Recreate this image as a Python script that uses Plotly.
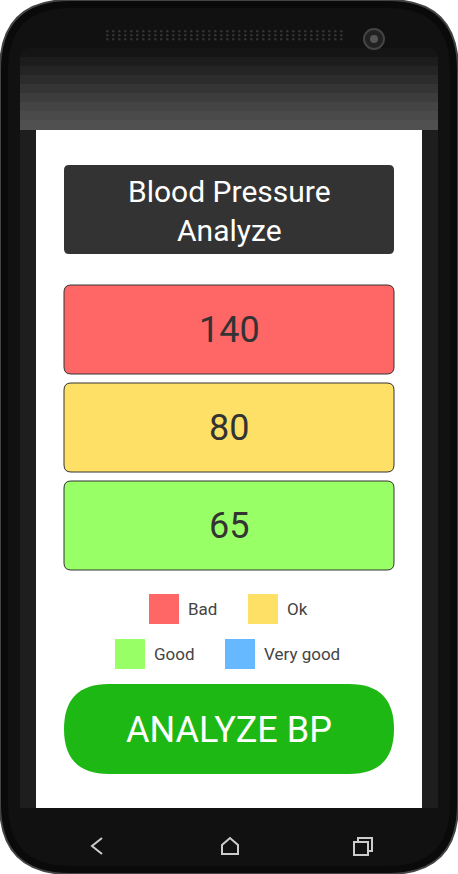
import plotly.graph_objects as go

title_lines = ["Blood Pressure", "Analyze"]
readings = ["140", "80", "65"]
reading_colors = ["#FF6666", "#FFE066", "#99FF66"]
legend_labels = ["Bad", "Ok", "Good", "Very good"]
legend_colors = ["#FF6666", "#FFE066", "#99FF66", "#66B8FF"]
button_label = "ANALYZE BP"

W, H = 458, 874

def rrect(x0, y0, x1, y1, r):
    return (f"M {x0+r},{y0} L {x1-r},{y0} Q {x1},{y0} {x1},{y0+r} L {x1},{y1-r} "
            f"Q {x1},{y1} {x1-r},{y1} L {x0+r},{y1} Q {x0},{y1} {x0},{y1-r} "
            f"L {x0},{y0+r} Q {x0},{y0} {x0+r},{y0} Z")

shapes = []
ann = []
shapes.append(dict(type="path", path=rrect(0, 0, 458, 874, 70), fillcolor="#0a0a0a", line=dict(color="#444", width=2)))
shapes.append(dict(type="path", path=rrect(8, 8, 450, 866, 62), fillcolor="#111", line=dict(width=0)))
bands = ["#151515", "#1c1c1c", "#242424", "#2c2c2c", "#343434", "#3c3c3c", "#444", "#4a4a4a", "#505050"]
for i, c in enumerate(bands):
    y0 = 48 + i * 9
    shapes.append(dict(type="path", path=rrect(20, y0, 438, y0 + 40, 10) if i == 0 else
                       f"M 20,{y0} L 438,{y0} L 438,{y0+10} L 20,{y0+10} Z", fillcolor=c, line=dict(width=0)))
shapes.append(dict(type="rect", x0=20, x1=438, y0=130, y1=808, fillcolor="#1e1e1e", line=dict(width=0)))
for k in range(40):
    for j in range(3):
        shapes.append(dict(type="circle", x0=106 + k * 6, x1=108.5 + k * 6, y0=30 + j * 4, y1=32.5 + j * 4,
                           fillcolor="#333", line=dict(width=0)))
shapes.append(dict(type="circle", x0=364, x1=384, y0=29, y1=49, fillcolor="#222", line=dict(color="#444", width=2)))
shapes.append(dict(type="circle", x0=370, x1=378, y0=35, y1=43, fillcolor="#555", line=dict(width=0)))
shapes.append(dict(type="rect", x0=36, x1=422, y0=130, y1=808, fillcolor="white", line=dict(width=0)))
shapes.append(dict(type="path", path=rrect(64, 165, 394, 254, 5), fillcolor="#333333", line=dict(width=0)))
ann.append(dict(x=229, y=211, text="<br>".join(title_lines), showarrow=False,
                font=dict(family="Roboto", size=30, color="white")))
for i, (v, c) in enumerate(zip(readings, reading_colors)):
    y0 = 285 + i * 98
    shapes.append(dict(type="path", path=rrect(64, y0, 394, y0 + 89, 7), fillcolor=c, line=dict(color="#333", width=1)))
    ann.append(dict(x=229, y=y0 + 45, text=v, showarrow=False, font=dict(family="Roboto", size=36, color="#333")))
pos = [(149, 594), (248, 594), (115, 639), (225, 639)]
for (x, y), lab, c in zip(pos, legend_labels, legend_colors):
    shapes.append(dict(type="rect", x0=x, x1=x + 30, y0=y, y1=y + 30, fillcolor=c, line=dict(width=0)))
    ann.append(dict(x=x + 37, y=y + 15, text=lab, showarrow=False, xanchor="left",
                    font=dict(family="Roboto", size=17, color="#444")))
shapes.append(dict(type="path", path=rrect(64, 684, 394, 774, 45), fillcolor="#1DB814", line=dict(width=0)))
ann.append(dict(x=229, y=730, text=button_label, showarrow=False, font=dict(family="Roboto", size=36, color="white")))
shapes.append(dict(type="path", path="M 102,838 L 92,846 L 102,854", line=dict(color="#ccc", width=2)))
shapes.append(dict(type="path", path="M 222,854 L 222,845 L 230,838 L 238,845 L 238,854 Z", line=dict(color="#ccc", width=2)))
shapes.append(dict(type="rect", x0=354, x1=368, y0=842, y1=855, line=dict(color="#ccc", width=2)))
shapes.append(dict(type="path", path="M 358,842 L 358,838 L 372,838 L 372,851 L 368,851", line=dict(color="#ccc", width=2)))

fig = go.Figure()
fig.update_layout(width=W, height=H, margin=dict(l=0, r=0, t=0, b=0),
                  paper_bgcolor="white", plot_bgcolor="white", shapes=shapes, annotations=ann,
                  xaxis=dict(range=[0, W], visible=False, fixedrange=True),
                  yaxis=dict(range=[H, 0], visible=False, fixedrange=True), showlegend=False)
fig.write_html("out.html", config={"displayModeBar": False},
               post_script="document.body.style.margin='0';document.body.style.overflow='hidden';")
